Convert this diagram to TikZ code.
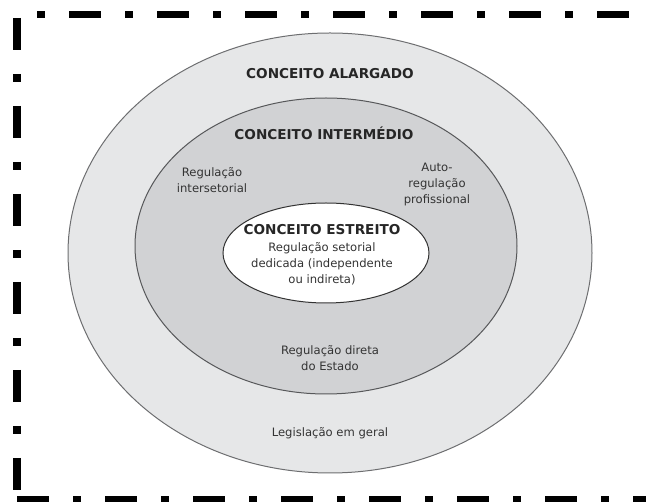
\documentclass[tikz,border=0pt]{standalone}
\usepackage{fontspec}
\setmainfont{DejaVu Sans}
\definecolor{outerfill}{HTML}{E6E7E8}
\definecolor{midfill}{HTML}{D1D2D4}
\definecolor{ringline}{HTML}{6D6E70}
\begin{document}
\begin{tikzpicture}[x=1pt,y=-1pt,
  title/.style={font=\bfseries\fontsize{13.6}{15}\selectfont,text=black!85},
  label/.style={font=\fontsize{11.6}{16}\selectfont,text=black!80,align=center}]
\useasboundingbox (0,0) rectangle (646,502);
% frame
\draw[line width=8pt,dash pattern=on 32pt off 24pt on 8pt off 24pt] (17,18) -- (17,490);
\draw[line width=7pt,dash pattern=on 8pt off 24pt on 32pt off 24pt] (37,14.5) -- (646,14.5);
\draw[line width=8pt,dash pattern=on 32pt off 24pt on 8pt off 24pt] (17,500) -- (646,500);
% rings
\filldraw[fill=outerfill,draw=ringline,line width=1pt] (330,253) ellipse [x radius=262,y radius=220];
\filldraw[fill=midfill,draw=ringline!80!black,line width=1pt] (326,246) ellipse [x radius=191,y radius=148];
\filldraw[fill=white,draw=black!80,line width=1pt] (326,253) ellipse [x radius=103,y radius=50];
% texts
\node[title] (alargado) at (330,74) {CONCEITO ALARGADO};
\node[title] (intermedio) at (324,133) {CONCEITO INTERMÉDIO};
\node[label] (intersetorial) at (212,180) {Regulação\\intersetorial};
\node[label] (auto) at (437,184) {Auto-\\regulação\\profissional};
\node[title] (estreito) at (322,230) {CONCEITO ESTREITO};
\node[label] (setorial) at (322,264) {Regulação setorial\\dedicada (independente\\ou indireta)};
\node[label] (direta) at (330,358) {Regulação direta\\do Estado};
\node[label] (geral) at (330,433) {Legislação em geral};
\end{tikzpicture}
\end{document}
